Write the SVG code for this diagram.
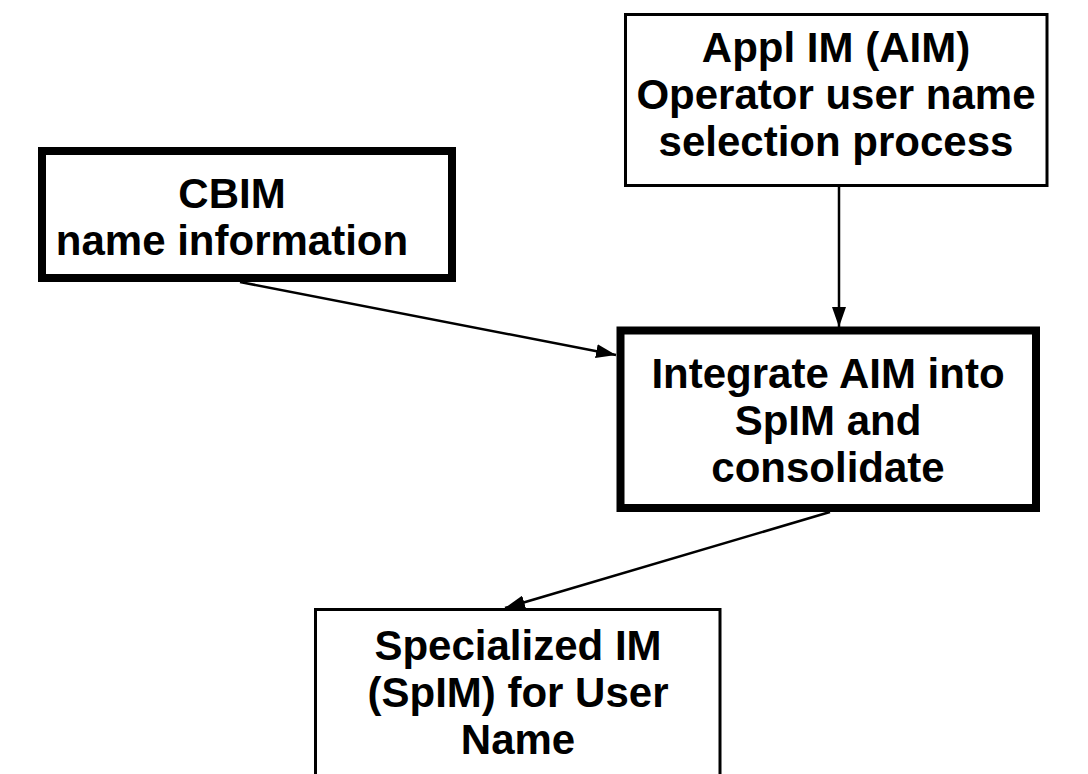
<svg xmlns="http://www.w3.org/2000/svg" width="1088" height="774" viewBox="0 0 1088 774">
<style>
.thick{fill:#fff;stroke:#000;stroke-width:8}
.thin{fill:#fff;stroke:#000;stroke-width:3}
.lbl{font-family:"Liberation Sans",Arial,sans-serif;font-weight:bold;font-size:42px;text-anchor:middle;fill:#000}
.con{stroke:#000;stroke-width:2.5;fill:none}
</style>
<defs>
<marker id="ah" viewBox="0 0 20 14" refX="20" refY="7" markerWidth="20" markerHeight="14" markerUnits="userSpaceOnUse" orient="auto">
<path d="M0,0 L20,7 L0,14 Z" fill="#000"/>
</marker>
</defs>
<rect width="1088" height="774" fill="#fff"/>
<g id="connectors">
<line class="con" x1="240" y1="282" x2="616" y2="355" marker-end="url(#ah)"/>
<line class="con" x1="839" y1="187" x2="839" y2="327" marker-end="url(#ah)"/>
<line class="con" x1="830" y1="512" x2="505" y2="608" marker-end="url(#ah)"/>
</g>
<g id="cbim">
<rect class="thick" x="42" y="151" width="410" height="127"/>
<text class="lbl" x="232" y="208">CBIM</text>
<text class="lbl" x="232" y="255">name information</text>
</g>
<g id="appl">
<rect class="thin" x="625.5" y="14.5" width="421.5" height="171"/>
<text class="lbl" x="836" y="62">Appl IM (AIM)</text>
<text class="lbl" x="836" y="109">Operator user name</text>
<text class="lbl" x="836" y="156">selection process</text>
</g>
<g id="integrate">
<rect class="thick" x="620.5" y="330.5" width="415.5" height="177.5"/>
<text class="lbl" x="828" y="388">Integrate AIM into</text>
<text class="lbl" x="828" y="435">SpIM and</text>
<text class="lbl" x="828" y="482">consolidate</text>
</g>
<g id="specialized">
<rect class="thin" x="315.5" y="609.5" width="404.5" height="180"/>
<text class="lbl" x="518" y="660">Specialized IM</text>
<text class="lbl" x="518" y="707">(SpIM) for User</text>
<text class="lbl" x="518" y="754">Name</text>
</g>
</svg>
